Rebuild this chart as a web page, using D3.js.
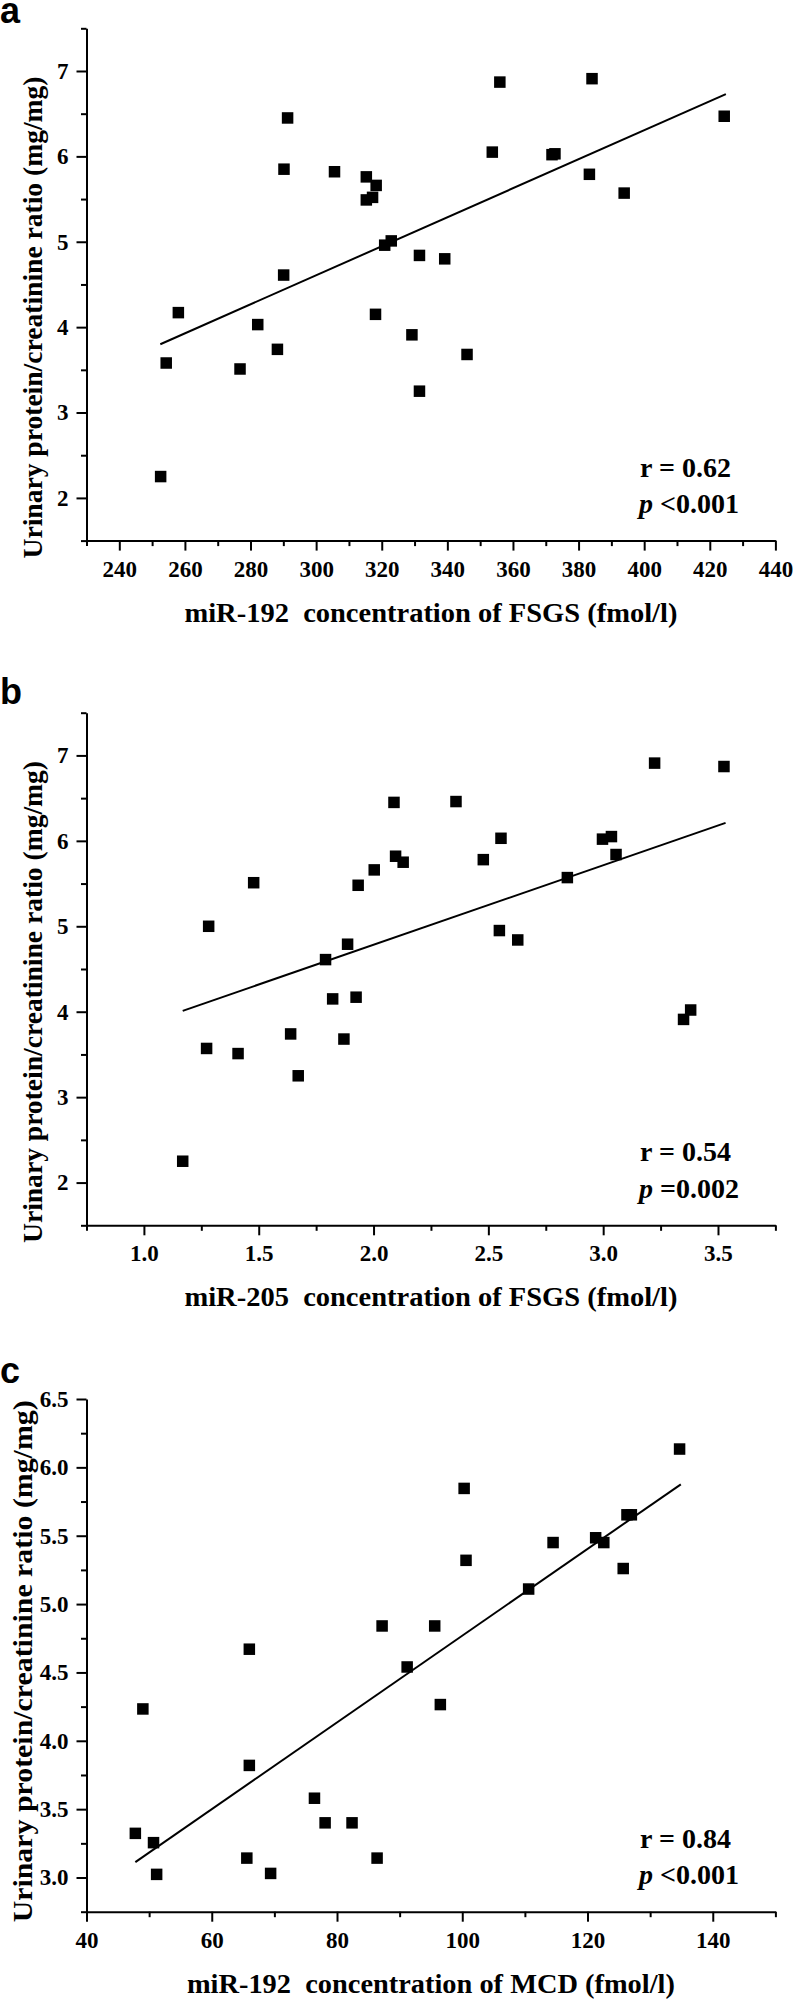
<!DOCTYPE html>
<html>
<head>
<meta charset="utf-8">
<script src="https://cdn.jsdelivr.net/npm/d3@7"></script>
<style>
  html, body { margin: 0; padding: 0; background: #fff; }
  svg { display: block; }
  text { font-family: "Liberation Serif", "Times New Roman", serif; font-weight: bold; fill: #000; white-space: pre; }
  .plabel { font-family: "Liberation Sans", Arial, sans-serif; font-weight: bold; }
</style>
</head>
<body>
<svg id="chart" width="793" height="1999"></svg>
<script>
// ---------- Panel a: miR-192 (FSGS) ----------
const aX = [258.0, 282.2, 290.1, 290.2, 291.3, 305.6, 315.3, 318.3, 315.3, 317.2, 320.9, 322.9, 331.5, 339.2, 318.1,
            353.7, 356.0, 371.9, 372.8, 384.1, 383.3, 393.9, 424.4, 254.3, 276.8, 288.2, 329.2, 331.5, 346.0, 252.6];
const aY = [4.17, 4.03, 4.61, 5.85, 6.45, 5.82, 5.76, 5.66, 5.49, 5.52, 4.96, 5.01, 4.84, 4.80, 4.15,
            6.05, 6.87, 6.02, 6.03, 6.91, 5.79, 5.57, 6.47, 3.58, 3.51, 3.74, 3.91, 3.25, 3.68, 2.25];
const aFitX = [252.5, 424.9];
const aFitY = [3.80, 6.73];
const aXTicks = [240, 260, 280, 300, 320, 340, 360, 380, 400, 420, 440];
const aXMinor = [230, 250, 270, 290, 310, 330, 350, 370, 390, 410, 430];
const aYTicks = [2, 3, 4, 5, 6, 7];
const aYMinor = [1.5, 2.5, 3.5, 4.5, 5.5, 6.5, 7.5];
const aXDomain = [230, 440];
const aYDomain = [1.5, 7.5];
const aStats = ["r = 0.62", "<0.001"];
const aXTitle = "miR-192  concentration of FSGS (fmol/l)";

// ---------- Panel b: miR-205 (FSGS) ----------
const bX = [1.282, 1.478, 1.791, 1.887, 1.933, 2.003, 2.089, 2.096, 2.129, 2.359, 2.478, 2.555, 2.548, 2.628, 2.844,
            2.997, 3.036, 3.056, 3.224, 3.526, 1.822, 1.924, 1.639, 1.871, 1.273, 1.410, 1.672, 3.350, 3.381, 1.169];
const bY = [5.00, 5.51, 4.61, 4.79, 5.48, 5.66, 6.45, 5.82, 5.75, 6.46, 5.78, 6.03, 4.95, 4.84, 5.57,
            6.02, 6.05, 5.84, 6.91, 6.87, 4.15, 4.17, 3.74, 3.68, 3.57, 3.51, 3.25, 3.91, 4.02, 2.25];
const bFitX = [1.169, 3.533];
const bFitY = [4.01, 6.21];
const bXTicks = [1.0, 1.5, 2.0, 2.5, 3.0, 3.5];
const bXMinor = [0.75, 1.25, 1.75, 2.25, 2.75, 3.25, 3.75];
const bYTicks = [2, 3, 4, 5, 6, 7];
const bYMinor = [1.5, 2.5, 3.5, 4.5, 5.5, 6.5, 7.5];
const bXDomain = [0.75, 3.75];
const bYDomain = [1.5, 7.5];
const bStats = ["r = 0.54", "=0.002"];
const bXTitle = "miR-205  concentration of FSGS (fmol/l)";

// ---------- Panel c: miR-192 (MCD) ----------
const cX = [134.7, 100.3, 127.0, 126.3, 121.3, 122.6, 114.5, 100.6, 125.7, 110.6, 87.2, 95.6, 66.0,
            91.2, 49.0, 96.5, 66.0, 76.4, 78.1, 82.4, 47.8, 50.7, 65.6, 86.4, 51.2, 69.4];
const cY = [6.134, 5.846, 5.653, 5.653, 5.485, 5.45, 5.45, 5.32, 5.26, 5.11, 4.84, 4.84, 4.67,
            4.54, 4.233, 4.265, 3.82, 3.58, 3.40, 3.40, 3.323, 3.255, 3.142, 3.142, 3.023, 3.03];
const cFitX = [47.8, 134.9];
const cFitY = [3.113, 5.876];
const cXTicks = [40, 60, 80, 100, 120, 140];
const cXMinor = [50, 70, 90, 110, 130, 150];
const cYTicks = [3.0, 3.5, 4.0, 4.5, 5.0, 5.5, 6.0, 6.5];
const cYMinor = [2.75, 3.25, 3.75, 4.25, 4.75, 5.25, 5.75, 6.25];
const cXDomain = [40, 150];
const cYDomain = [2.75, 6.5];
const cStats = ["r = 0.84", "<0.001"];
const cXTitle = "miR-192  concentration of MCD (fmol/l)";

const yTitle = "Urinary protein/creatinine ratio (mg/mg)";
const panelLabels = ["a", "b", "c"];

// ---------- drawing ----------
const svg = d3.select("#chart");
const left = 86.5, right = 775.4;

const panels = [
  { label: panelLabels[0], labelY: 23, top: 28.3, bottom: 540.6, xs: aX, ys: aY, fx: aFitX, fy: aFitY,
    xt: aXTicks, xm: aXMinor, yt: aYTicks, ym: aYMinor, xd: aXDomain, yd: aYDomain,
    xf: d3.format("d"), yf: d3.format("d"), yfs: 23, stats: aStats, xTitle: aXTitle, xTitleLen: 493,
    yTitleX: 42, yTitleOff: 33, yTitleLen: 482, yTitleFs: 28 },
  { label: panelLabels[1], labelY: 704, top: 712.7, bottom: 1225.3, xs: bX, ys: bY, fx: bFitX, fy: bFitY,
    xt: bXTicks, xm: bXMinor, yt: bYTicks, ym: bYMinor, xd: bXDomain, yd: bYDomain,
    xf: d3.format(".1f"), yf: d3.format("d"), yfs: 23, stats: bStats, xTitle: bXTitle, xTitleLen: 493,
    yTitleX: 42, yTitleOff: 33, yTitleLen: 482, yTitleFs: 28 },
  { label: panelLabels[2], labelY: 1383, top: 1399, bottom: 1911.7, xs: cX, ys: cY, fx: cFitX, fy: cFitY,
    xt: cXTicks, xm: cXMinor, yt: cYTicks, ym: cYMinor, xd: cXDomain, yd: cYDomain,
    xf: d3.format("d"), yf: d3.format(".1f"), yfs: 23, stats: cStats, xTitle: cXTitle, xTitleLen: 488,
    yTitleX: 32, yTitleOff: 6, yTitleLen: 522, yTitleFs: 27 }
];

const SQ = 11.5;

panels.forEach(p => {
  const x = d3.scaleLinear().domain(p.xd).range([left, right]);
  const y = d3.scaleLinear().domain(p.yd).range([p.bottom, p.top]);
  const g = svg.append("g");

  // minor ticks
  g.append("g").attr("transform", `translate(0,${p.bottom})`)
    .call(d3.axisBottom(x).tickValues(p.xm).tickSize(5.5).tickSizeOuter(0).tickFormat(""))
    .call(s => s.select(".domain").remove())
    .call(s => s.selectAll("line").attr("stroke", "#000").attr("stroke-width", 2));
  g.append("g").attr("transform", `translate(${left},0)`)
    .call(d3.axisLeft(y).tickValues(p.ym).tickSize(5.5).tickSizeOuter(0).tickFormat(""))
    .call(s => s.select(".domain").remove())
    .call(s => s.selectAll("line").attr("stroke", "#000").attr("stroke-width", 2));

  // major axes
  const xa = g.append("g").attr("transform", `translate(0,${p.bottom})`)
    .call(d3.axisBottom(x).tickValues(p.xt).tickSize(10).tickSizeOuter(0).tickPadding(6).tickFormat(p.xf));
  const ya = g.append("g").attr("transform", `translate(${left},0)`)
    .call(d3.axisLeft(y).tickValues(p.yt).tickSize(10).tickSizeOuter(0).tickPadding(8).tickFormat(p.yf));
  [xa, ya].forEach(a => {
    a.select(".domain").attr("stroke", "#000").attr("stroke-width", 2);
    a.selectAll("line").attr("stroke", "#000").attr("stroke-width", 2);
    a.selectAll("text").attr("font-family", "Liberation Serif, serif").attr("font-weight", "bold")
      .attr("font-size", 23).attr("fill", "#000");
  });
  ya.selectAll("text").attr("font-size", p.yfs);
  xa.selectAll("text").attr("dy", null).attr("y", 36).attr("dominant-baseline", "auto");

  // fit line
  const lineData = p.fx.map((v, i) => [v, p.fy[i]]);
  g.append("path").datum(lineData)
    .attr("d", d3.line().x(d => x(d[0])).y(d => y(d[1])))
    .attr("fill", "none").attr("stroke", "#000").attr("stroke-width", 2);

  // points
  g.selectAll("rect.pt").data(p.xs.map((v, i) => [v, p.ys[i]])).join("rect")
    .attr("class", "pt")
    .attr("x", d => x(d[0]) - SQ / 2).attr("y", d => y(d[1]) - SQ / 2)
    .attr("width", SQ).attr("height", SQ).attr("fill", "#000");

  // stats
  g.append("text").attr("x", 640).attr("y", p.bottom - 64).attr("font-size", 28).text(p.stats[0]);
  const st = g.append("text").attr("x", 639).attr("y", p.bottom - 27.5).attr("font-size", 28);
  st.append("tspan").attr("font-style", "italic").text("p");
  st.append("tspan").text(" " + p.stats[1]);

  // titles
  g.append("text").attr("x", (left + right) / 2).attr("y", p.bottom + 81)
    .attr("text-anchor", "middle").attr("font-size", 28)
    .attr("textLength", p.xTitleLen).attr("lengthAdjust", "spacingAndGlyphs")
    .text(p.xTitle);
  g.append("text")
    .attr("transform", `translate(${p.yTitleX},${(p.top + p.bottom) / 2 + p.yTitleOff}) rotate(-90)`)
    .attr("text-anchor", "middle").attr("font-size", p.yTitleFs)
    .attr("textLength", p.yTitleLen).attr("lengthAdjust", "spacingAndGlyphs")
    .text(yTitle);

  // panel label
  g.append("text").attr("class", "plabel").attr("x", 0).attr("y", p.labelY)
    .attr("font-size", 36).text(p.label);
});
</script>
</body>
</html>
